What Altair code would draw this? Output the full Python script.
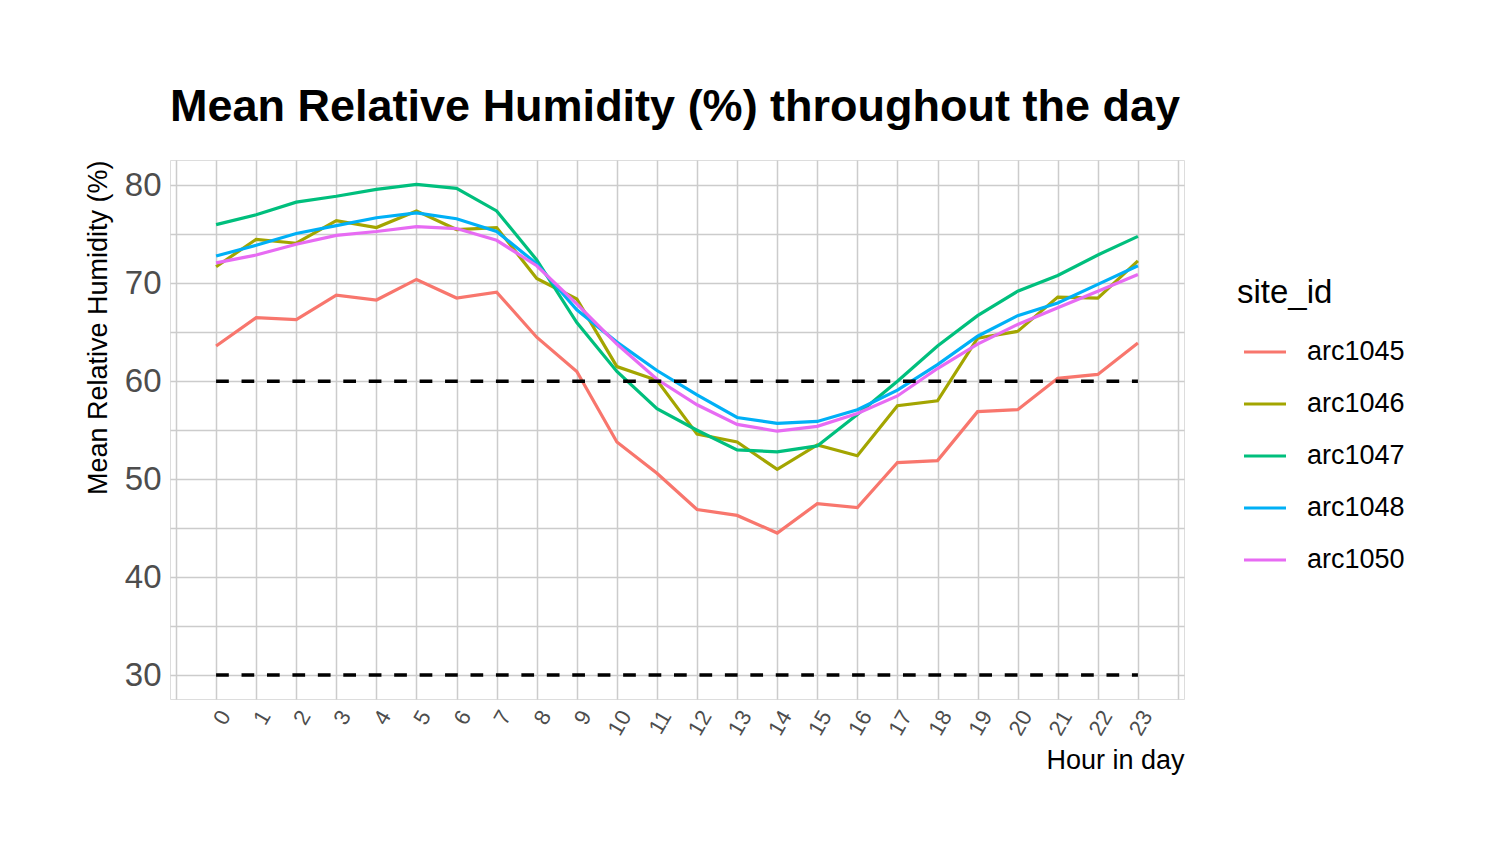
import altair as alt
import pandas as pd

hours = list(range(24))
sites = ["arc1045", "arc1046", "arc1047", "arc1048", "arc1050"]
colors = ["#F8766D", "#A3A500", "#00BF7D", "#00B0F6", "#E76BF3"]

arc1045 = [63.6, 66.5, 66.3, 68.8, 68.3, 70.4, 68.5, 69.1, 64.5, 61.0, 53.8, 50.6,
           46.9, 46.3, 44.5, 47.5, 47.1, 51.7, 51.9, 56.9, 57.1, 60.3, 60.7, 63.9]
arc1046 = [71.7, 74.5, 74.1, 76.4, 75.7, 77.4, 75.5, 75.7, 70.5, 68.4, 61.5, 60.1,
           54.6, 53.8, 51.0, 53.5, 52.4, 57.5, 58.0, 64.4, 65.1, 68.6, 68.5, 72.3]
arc1047 = [76.0, 77.0, 78.3, 78.9, 79.6, 80.1, 79.7, 77.4, 72.4, 66.0, 61.0, 57.2,
           55.0, 53.0, 52.8, 53.4, 56.6, 60.0, 63.6, 66.7, 69.2, 70.8, 72.9, 74.8]
arc1048 = [72.8, 73.9, 75.1, 75.9, 76.7, 77.2, 76.6, 75.3, 72.0, 67.3, 64.0, 61.1,
           58.6, 56.3, 55.7, 55.9, 57.1, 59.1, 61.7, 64.6, 66.7, 68.0, 69.9, 71.8]
arc1050 = [72.1, 72.9, 74.0, 74.9, 75.3, 75.8, 75.6, 74.4, 71.8, 67.9, 63.8, 60.2,
           57.6, 55.6, 54.9, 55.4, 56.7, 58.5, 61.3, 63.8, 65.8, 67.5, 69.2, 70.9]

thresholds = [60, 30]
threshold_start = 0
threshold_end = 23

x_grid = [v / 2 for v in range(-2, 49)]
y_grid = list(range(30, 85, 5))

series = {"arc1045": arc1045, "arc1046": arc1046, "arc1047": arc1047,
          "arc1048": arc1048, "arc1050": arc1050}
rows = []
for s in sites:
    for h, v in zip(hours, series[s]):
        rows.append({"hour": h, "rh": v, "site_id": s})
df = pd.DataFrame(rows)
df_thr = pd.DataFrame({"y": thresholds, "x0": threshold_start, "x1": threshold_end})

FONT = "Liberation Sans"

x_scale = alt.Scale(domain=[-1.15, 24.15], nice=False, zero=False)
y_scale = alt.Scale(domain=[27.55, 82.6], nice=False, zero=False)

x_axis = alt.Axis(
    values=x_grid,
    labelExpr="datum.value >= 0 && datum.value <= 23 && datum.value % 1 == 0 ? datum.label : ''",
    labelAngle=-60, labelAlign="right", labelBaseline="top",
    labelFontSize=22, labelColor="#4D4D4D", labelFont=FONT,
    labelPadding=8, labelOverlap=False, labelBound=False,
    ticks=False, domain=False,
    grid=True, gridColor="#CCCCCC", gridWidth=1.5,
    title="Hour in day", titleFont=FONT, titleFontSize=27, titleFontWeight="normal",
    titleColor="black", titleAnchor="end", titlePadding=9,
)
y_axis = alt.Axis(
    values=y_grid,
    labelExpr="datum.value % 10 == 0 ? datum.label : ''",
    labelFontSize=33, labelColor="#4D4D4D", labelFont=FONT,
    labelPadding=9, labelOverlap=False, labelBound=False,
    ticks=False, domain=False,
    grid=True, gridColor="#CCCCCC", gridWidth=1.5,
    title="Mean Relative Humidity (%)", titleFont=FONT, titleFontSize=27,
    titleFontWeight="normal", titleColor="black", titleAnchor="end", titlePadding=12,
)

lines = alt.Chart(df).mark_line(strokeWidth=3.2).encode(
    x=alt.X("hour:Q", scale=x_scale, axis=x_axis),
    y=alt.Y("rh:Q", scale=y_scale, axis=y_axis),
    color=alt.Color(
        "site_id:N",
        scale=alt.Scale(domain=sites, range=colors),
        legend=alt.Legend(
            title="site_id", orient="none", legendX=1067, legendY=117,
            titleFont=FONT, titleFontSize=33, titleFontWeight="normal", titleColor="black",
            titlePadding=19,
            labelFont=FONT, labelFontSize=27, labelColor="black", labelOffset=19,
            symbolType="stroke", symbolSize=1764, symbolStrokeWidth=3.2,
            symbolOffset=5, rowPadding=16,
        ),
    ),
    detail="site_id:N",
)

rules = alt.Chart(df_thr).mark_rule(
    color="black", strokeWidth=3.5, strokeDash=[12.72, 12.72]
).encode(
    x=alt.X("x0:Q", scale=x_scale),
    x2="x1:Q",
    y=alt.Y("y:Q", scale=y_scale),
)

chart = alt.layer(lines, rules).properties(
    width=1014, height=539,
    title=alt.Title(
        "Mean Relative Humidity (%) throughout the day",
        anchor="start", frame="group", font=FONT, fontSize=45, fontWeight="bold",
        color="black", baseline="alphabetic", offset=-6,
    ),
    autosize=alt.AutoSizeParams(type="none"),
    padding={"left": 162, "top": 152, "right": 312, "bottom": 150},
).configure_view(stroke=None).configure(background="white")

chart.save("out.html", embed_options={"renderer": "svg", "actions": False})
